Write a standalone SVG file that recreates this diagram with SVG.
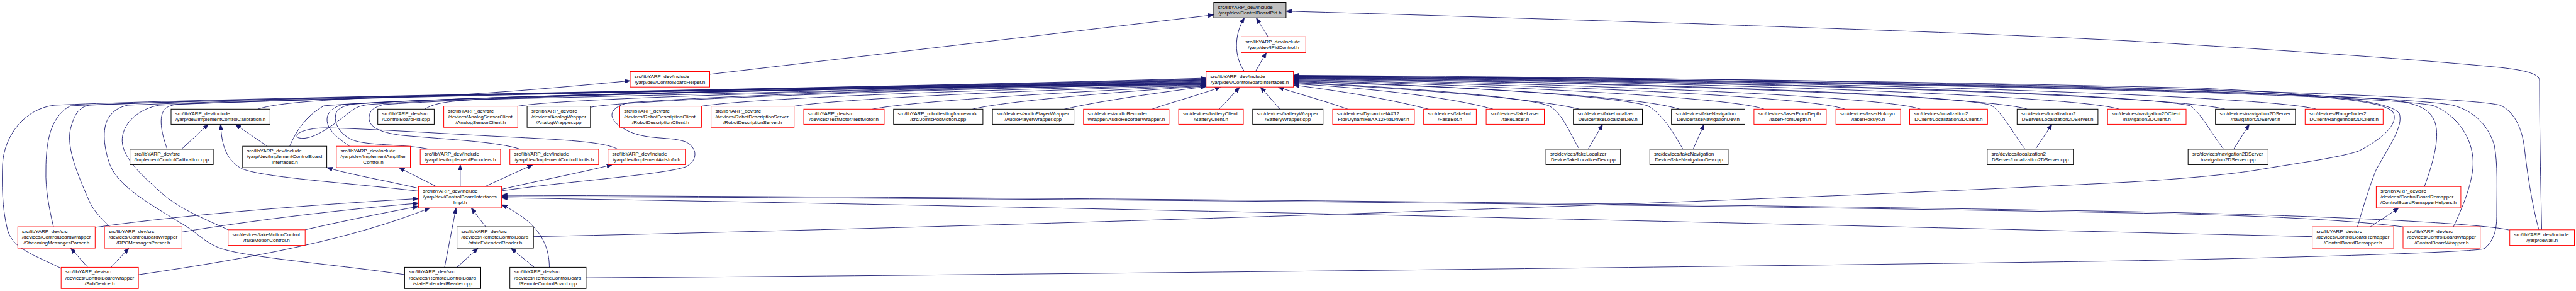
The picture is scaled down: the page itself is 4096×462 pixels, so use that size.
<svg xmlns="http://www.w3.org/2000/svg" width="4096" height="462" viewBox="0 0 4096 462">
<style>
.n rect{fill:#fff;stroke:#000;stroke-width:1}
.n.r rect{stroke:#f00}
.n.g rect{fill:#bfbfbf}
text{font-family:"Liberation Sans",Arial,sans-serif;font-size:8px;fill:#000}
.m{text-anchor:middle}
#edges path{fill:none;stroke:#191970;stroke-width:0.9;marker-end:url(#a)}
</style>
<defs>
<marker id="a" markerUnits="userSpaceOnUse" markerWidth="9" markerHeight="7" viewBox="0 0 9 7" refX="9" refY="3.5" orient="auto"><path d="M0,0L9,3.5L0,7z" fill="#191970" stroke="#191970" stroke-width="0.5"/></marker>
</defs>
<rect width="4096" height="462" fill="#fff"/>
<g id="edges">
<path d="M96.8,425.8 C55,405 20,395 12,365 C3,330 3,290 4,262 C6,215 40,172 87,167 C400,153 1400,140 1917.7,124"/>
<path d="M85,360.1 C78,330 72,300 73,270 C73,225 80,185 112,168 C450,152 1400,140 1917.7,125"/>
<path d="M174.4,360.1 C160,345 148,335 140,315 C125,280 105,235 112,205 C118,182 125,170 142,167 C500,152 1400,140 1917.7,126"/>
<path d="M643.4,436 C520,418 380,408 345,392 C325,383 315,372 300,362 C250,330 190,300 175,262 C165,235 162,205 172,188 C180,175 190,170 203,167 C550,152 1400,140 1917.7,127"/>
<path d="M362.7,364.8 C320,345 280,330 250,300 C210,265 190,240 195,215 C200,190 225,172 253,167 C580,152 1400,140 1917.7,128"/>
<path d="M265.9,236.9 C258,215 252,190 260,176 C265,168 275,166 290,165 C500,158 650,154 700,152 C800,147 900,138 1002,128.2"/>
<path d="M409.7,173.3 C440,163 520,158 640,153 C1000,145 1500,138 1917.7,129"/>
<path d="M460.7,232.2 C470,210 485,185 515,168 C700,152 1400,140 1917.7,130"/>
<path d="M555.8,232.2 C535,218 520,205 520,190 C520,178 530,170 545,166 C800,150 1400,139 1917.7,131"/>
<path d="M682.2,236.9 C640,228 585,232 560,222 C535,210 530,190 535,178 C540,170 550,167 565,165 C800,150 1400,139 1917.7,132"/>
<path d="M827.7,236.9 C790,225 720,222 640,215 C600,210 585,200 587,185 C588,175 595,170 610,166 C850,150 1400,139 1917.7,133"/>
<path d="M982.4,236.9 C960,225 900,222 800,217 C700,212 600,205 520,203 C480,203 465,215 475,219 C500,225 540,190 560,175 C570,168 580,166 600,165 C850,150 1400,139 1917.7,133.5"/>
<path d="M675.6,173.3 C690,163 720,160 760,158 C1100,150 1600,138 1917.7,126.5"/>
<path d="M823.3,168.6 C900,155 1400,142 1917.7,131.5"/>
<path d="M938.8,170.3 C1000,158 1500,141 1917.7,132.5"/>
<path d="M797.6,303 C900,288 1050,278 1090,265 C1110,255 1110,235 1090,225 C1060,215 1020,225 985,200 C965,185 970,170 1000,163 C1200,148 1600,138 1917.7,134"/>
<path d="M1115.4,168.6 C1200,155 1600,141 1917.7,134.5"/>
<path d="M1262.7,168.6 C1350,155 1700,141 1917.7,135.5"/>
<path d="M1387.2,173.3 C1450,160 1750,143 1917.7,136.2"/>
<path d="M1546.3,173.3 C1600,160 1800,144 1917.7,136.8"/>
<path d="M1692.3,173.3 C1750,160 1850,146 1917.7,137.5"/>
<path d="M1831.8,173.3 C1870,160 1910,150 1940.8,138.2"/>
<path d="M1938.6,173.3 L1971.3,138.2"/>
<path d="M2035.4,173.3 L2004,138.2"/>
<path d="M2143,173.3 C2100,158 2060,148 2032.3,138.2"/>
<path d="M2271.5,173.3 C2200,155 2120,143 2056.6,135"/>
<path d="M2374,173.3 C2300,152 2150,138 2056.6,133"/>
<path d="M2511.3,173.3 C2440,155 2200,138 2056.6,131.5"/>
<path d="M2511.3,236.9 C2495,210 2485,180 2463,168 C2420,152 2200,137 2056.6,130.5"/>
<path d="M2670.4,173.3 C2600,150 2250,135 2056.6,129.5"/>
<path d="M2676,236.9 C2660,210 2645,182 2620,168 C2560,150 2250,134 2056.6,128.5"/>
<path d="M2805,173.3 C2750,152 2300,133 2056.6,127.5"/>
<path d="M2933.6,173.3 C2870,150 2350,132 2056.6,126.5"/>
<path d="M3053.5,173.3 C2990,150 2400,130 2056.6,125.5"/>
<path d="M3223.5,173.3 C3150,150 2500,129 2056.6,125"/>
<path d="M3220,236.9 C3200,210 3185,180 3166,167 C3100,148 2500,128 2056.6,124.5"/>
<path d="M3369.5,173.3 C3300,150 2600,127 2056.6,124"/>
<path d="M3538,173.3 C3450,150 2700,127 2056.6,123.5"/>
<path d="M3535.8,236.9 C3515,210 3500,180 3483,168 C3400,148 2700,126 2056.6,123"/>
<path d="M3683,173.3 C3600,150 2800,126 2056.6,122.5"/>
<path d="M3748.5,360.1 C3760,320 3770,290 3778,270 C3800,230 3822,200 3815,180 C3800,160 3700,150 3500,140 C3000,128 2500,122 2056.6,122"/>
<path d="M3855,296.2 C3868,260 3880,220 3872,195 C3865,175 3850,165 3800,158 C3500,140 2500,122 2056.6,121.5"/>
<path d="M3901.1,360.1 C3920,320 3935,280 3932,250 C3928,210 3900,180 3870,168 C3800,150 3000,130 2056.6,121"/>
<path d="M931.9,441.2 C1800,435 3000,420 3386,414 C3700,408 3930,400 3950,395 C3968,380 3970,360 3970,340 C3970,300 3972,260 3966,230 C3955,195 3930,175 3900,167 C3800,148 3000,128 2056.6,120.5"/>
<path d="M848.2,375.7 C1500,362 2700,325 3386,289 C3500,282 3560,275 3600,268 C3660,258 3720,250 3750,240 C3790,220 3815,195 3805,178 C3790,160 3700,152 3500,143 C3000,130 2500,125 2056.6,120"/>
<path d="M4036.9,364.8 C4025,320 4018,270 4014,235 C4010,200 3995,175 3975,167 C3900,148 3000,125 2056.6,119.5"/>
<path d="M4041.5,364.8 C4040,300 4038,200 4038,128 C4038,118 4020,112 3975,107 C3800,90 3500,72 3386,65 C3100,50 2800,42 2709,38 C2450,30 2200,22 2044.9,17.7"/>
<path d="M2016.2,58.3 L1997.5,28.3"/>
<path d="M1978.7,113.5 C1962,90 1962,55 1978.7,28.3"/>
<path d="M1996.2,113.5 L2013.6,83.4"/>
<path d="M1128.5,117.9 L1929.9,23.6"/>
<path d="M288.6,236.9 L331.3,197.4"/>
<path d="M425,232.2 L374,197.4"/>
<path d="M665.6,303.5 C550,290 420,282 385,268 C360,255 352,230 350.9,197.4"/>
<path d="M665.6,299 C620,288 560,278 519.6,266"/>
<path d="M694,296.2 L634.2,266.1"/>
<path d="M731.8,296.2 L731.8,261.4"/>
<path d="M771,296.2 L847.3,261.4"/>
<path d="M797.6,300.6 C850,288 920,275 973.7,261.4"/>
<path d="M151.3,361 C300,340 500,325 665.6,315.3"/>
<path d="M289.4,368.4 C400,350 550,332 665.6,322.7"/>
<path d="M485.2,364.8 C550,350 610,338 665.6,327.7"/>
<path d="M220.1,436.2 C400,410 560,380 683.8,330.1"/>
<path d="M706.9,424.4 L725.2,330.1"/>
<path d="M772.3,360.1 L749.2,330.1"/>
<path d="M873.5,424.4 C873,390 860,355 797.6,325"/>
<path d="M726.6,424.4 L760.1,394"/>
<path d="M849.5,424.4 L812.4,394"/>
<path d="M139.5,424.4 L112.5,394"/>
<path d="M176.5,424.4 L204.9,394"/>
<path d="M3769,360.1 L3814.2,330.1"/>
<path d="M3676.6,375.7 C3000,360 1800,330 797.6,314"/>
<path d="M3821,360.1 C3700,345 3500,340 3386,338 C2500,322 1500,314 797.6,312"/>
<path d="M3990.7,365.4 C3950,355 3700,342 3386,336 C2500,320 1500,313 797.6,310"/>
<path d="M2525.2,236.9 L2548.3,197.4"/>
<path d="M2692.2,236.9 L2709.6,197.4"/>
<path d="M3236.5,236.9 L3262.7,197.4"/>
<path d="M3551.6,236.9 L3576.5,197.4"/>
</g>
<g id="n_pid" class="n g"><rect x="1929.9" y="3.5" width="115" height="24.8"/><text x="1936.7" y="13.6">src/libYARP_dev/include</text><text x="1987.4" y="22.7" class="m">/yarp/dev/ControlBoardPid.h</text></g>
<g id="n_ipid" class="n r"><rect x="1973.5" y="58.3" width="102.8" height="25.1"/><text x="1980.3" y="68.5">src/libYARP_dev/include</text><text x="2024.9" y="77.6" class="m">/yarp/dev/IPidControl.h</text></g>
<g id="n_cbhelper" class="n r"><rect x="1002" y="113.5" width="126.5" height="24.7"/><text x="1008.8" y="123.5">src/libYARP_dev/include</text><text x="1065.2" y="132.6" class="m">/yarp/dev/ControlBoardHelper.h</text></g>
<g id="n_cbi" class="n r"><rect x="1917.7" y="113.5" width="138.9" height="24.7"/><text x="1924.5" y="123.5">src/libYARP_dev/include</text><text x="1987.1" y="132.6" class="m">/yarp/dev/ControlBoardInterfaces.h</text></g>
<g id="n_icc_h" class="n"><rect x="272" y="173.3" width="157.4" height="24.1"/><text x="278.8" y="183">src/libYARP_dev/include</text><text x="350.7" y="192.1" class="m">/yarp/dev/ImplementControlCalibration.h</text></g>
<g id="n_cbpid_cpp" class="n"><rect x="600.7" y="173.3" width="89.7" height="24.1"/><text x="607.5" y="183">src/libYARP_dev/src</text><text x="645.5" y="192.1" class="m">/ControlBoardPid.cpp</text></g>
<g id="n_analogSC" class="n r"><rect x="705.6" y="168.6" width="117.7" height="33.6"/><text x="712.4" y="178.5">src/libYARP_dev/src</text><text x="712.4" y="187.6">/devices/AnalogSensorClient</text><text x="764.4" y="196.7" class="m">/AnalogSensorClient.h</text></g>
<g id="n_analogW" class="n"><rect x="838.1" y="168.6" width="100.7" height="33.6"/><text x="844.9" y="178.5">src/libYARP_dev/src</text><text x="844.9" y="187.6">/devices/AnalogWrapper</text><text x="888.4" y="196.7" class="m">/AnalogWrapper.cpp</text></g>
<g id="n_robDescC" class="n r"><rect x="985.5" y="168.6" width="129.9" height="33.6"/><text x="992.3" y="178.5">src/libYARP_dev/src</text><text x="992.3" y="187.6">/devices/RobotDescriptionClient</text><text x="1050.4" y="196.7" class="m">/RobotDescriptionClient.h</text></g>
<g id="n_robDescS" class="n r"><rect x="1130.6" y="168.6" width="132.1" height="33.6"/><text x="1137.4" y="178.5">src/libYARP_dev/src</text><text x="1137.4" y="187.6">/devices/RobotDescriptionServer</text><text x="1196.6" y="196.7" class="m">/RobotDescriptionServer.h</text></g>
<g id="n_testMotor" class="n r"><rect x="1278" y="173.3" width="127.9" height="24.1"/><text x="1284.8" y="183">src/libYARP_dev/src</text><text x="1341.9" y="192.1" class="m">/devices/TestMotor/TestMotor.h</text></g>
<g id="n_joints" class="n"><rect x="1420.8" y="173.3" width="142.1" height="24.1"/><text x="1427.6" y="183">src/libYARP_robottestingframework</text><text x="1491.8" y="192.1" class="m">/src/JointsPosMotion.cpp</text></g>
<g id="n_audioPlayer" class="n"><rect x="1578.1" y="173.3" width="129.5" height="24.1"/><text x="1584.9" y="183">src/devices/audioPlayerWrapper</text><text x="1642.8" y="192.1" class="m">/AudioPlayerWrapper.cpp</text></g>
<g id="n_audioRec" class="n r"><rect x="1722.8" y="173.3" width="136" height="24.1"/><text x="1729.6" y="183">src/devices/audioRecorder</text><text x="1790.8" y="192.1" class="m">Wrapper/AudioRecorderWrapper.h</text></g>
<g id="n_battClient" class="n r"><rect x="1874.1" y="173.3" width="102.9" height="24.1"/><text x="1880.9" y="183">src/devices/batteryClient</text><text x="1925.5" y="192.1" class="m">/BatteryClient.h</text></g>
<g id="n_battWrapper" class="n"><rect x="1991.8" y="173.3" width="111.9" height="24.1"/><text x="1998.6" y="183">src/devices/batteryWrapper</text><text x="2047.7" y="192.1" class="m">/BatteryWrapper.cpp</text></g>
<g id="n_dynamixel" class="n r"><rect x="2119" y="173.3" width="129.9" height="24.1"/><text x="2125.8" y="183">src/devices/DynamixelAX12</text><text x="2183.9" y="192.1" class="m">Ftdi/DynamixelAX12FtdiDriver.h</text></g>
<g id="n_fakebot" class="n r"><rect x="2263.7" y="173.3" width="83.7" height="24.1"/><text x="2270.5" y="183">src/devices/fakebot</text><text x="2305.5" y="192.1" class="m">/FakeBot.h</text></g>
<g id="n_fakeLaser" class="n r"><rect x="2363.1" y="173.3" width="92.4" height="24.1"/><text x="2369.9" y="183">src/devices/fakeLaser</text><text x="2409.3" y="192.1" class="m">/fakeLaser.h</text></g>
<g id="n_fakeLocH" class="n"><rect x="2501.7" y="173.3" width="109.8" height="24.1"/><text x="2508.5" y="183">src/devices/fakeLocalizer</text><text x="2556.6" y="192.1" class="m">Device/fakeLocalizerDev.h</text></g>
<g id="n_fakeNavH" class="n"><rect x="2657.7" y="173.3" width="116.8" height="24.1"/><text x="2664.5" y="183">src/devices/fakeNavigation</text><text x="2716.1" y="192.1" class="m">Device/fakeNavigationDev.h</text></g>
<g id="n_laserFD" class="n r"><rect x="2788.9" y="173.3" width="115" height="24.1"/><text x="2795.7" y="183">src/devices/laserFromDepth</text><text x="2846.4" y="192.1" class="m">/laserFromDepth.h</text></g>
<g id="n_laserHok" class="n r"><rect x="2919.2" y="173.3" width="102.9" height="24.1"/><text x="2926" y="183">src/devices/laserHokuyo</text><text x="2970.6" y="192.1" class="m">/laserHokuyo.h</text></g>
<g id="n_loc2dC" class="n r"><rect x="3036.5" y="173.3" width="123.8" height="24.1"/><text x="3043.3" y="183">src/devices/localization2</text><text x="3098.4" y="192.1" class="m">DClient/Localization2DClient.h</text></g>
<g id="n_loc2dS_h" class="n"><rect x="3207.3" y="173.3" width="128.6" height="24.1"/><text x="3214.1" y="183">src/devices/localization2</text><text x="3271.6" y="192.1" class="m">DServer/Localization2DServer.h</text></g>
<g id="n_nav2dC" class="n r"><rect x="3351.2" y="173.3" width="124.8" height="24.1"/><text x="3358" y="183">src/devices/navigation2DClient</text><text x="3413.6" y="192.1" class="m">/navigation2DClient.h</text></g>
<g id="n_nav2dS_h" class="n"><rect x="3522.7" y="173.3" width="127.2" height="24.1"/><text x="3529.5" y="183">src/devices/navigation2DServer</text><text x="3586.3" y="192.1" class="m">/navigation2DServer.h</text></g>
<g id="n_rangeF" class="n r"><rect x="3665.3" y="173.3" width="124" height="24.1"/><text x="3672.1" y="183">src/devices/Rangefinder2</text><text x="3727.3" y="192.1" class="m">DClient/Rangefinder2DClient.h</text></g>
<g id="n_icc_cpp" class="n"><rect x="206.6" y="236.9" width="132.5" height="24.5"/><text x="213.4" y="246.8">src/libYARP_dev/src</text><text x="272.8" y="255.9" class="m">/ImplementControlCalibration.cpp</text></g>
<g id="n_icbi_h" class="n"><rect x="385.8" y="232.2" width="133.8" height="33.9"/><text x="392.6" y="242.2">src/libYARP_dev/include</text><text x="392.6" y="251.3">/yarp/dev/ImplementControlBoard</text><text x="452.7" y="260.4" class="m">Interfaces.h</text></g>
<g id="n_iamp_h" class="n r"><rect x="534.8" y="232.2" width="117.7" height="33.9"/><text x="541.6" y="242.2">src/libYARP_dev/include</text><text x="541.6" y="251.3">/yarp/dev/ImplementAmplifier</text><text x="593.6" y="260.4" class="m">Control.h</text></g>
<g id="n_ienc_h" class="n r"><rect x="668.2" y="236.9" width="127.7" height="24.5"/><text x="675" y="246.8">src/libYARP_dev/include</text><text x="732" y="255.9" class="m">/yarp/dev/ImplementEncoders.h</text></g>
<g id="n_ilim_h" class="n r"><rect x="810.7" y="236.9" width="141.2" height="24.5"/><text x="817.5" y="246.8">src/libYARP_dev/include</text><text x="881.3" y="255.9" class="m">/yarp/dev/ImplementControlLimits.h</text></g>
<g id="n_iaxis_h" class="n r"><rect x="966.7" y="236.9" width="123" height="24.5"/><text x="973.5" y="246.8">src/libYARP_dev/include</text><text x="1028.2" y="255.9" class="m">/yarp/dev/ImplementAxisInfo.h</text></g>
<g id="n_fakeLocCpp" class="n"><rect x="2458.1" y="236.9" width="118.6" height="24.5"/><text x="2464.9" y="246.8">src/devices/fakeLocalizer</text><text x="2517.4" y="255.9" class="m">Device/fakeLocalizerDev.cpp</text></g>
<g id="n_fakeNavCpp" class="n"><rect x="2623.3" y="236.9" width="124.6" height="24.5"/><text x="2630.1" y="246.8">src/devices/fakeNavigation</text><text x="2685.6" y="255.9" class="m">Device/fakeNavigationDev.cpp</text></g>
<g id="n_loc2dS_cpp" class="n"><rect x="3159.8" y="236.9" width="136.9" height="24.5"/><text x="3166.6" y="246.8">src/devices/localization2</text><text x="3228.2" y="255.9" class="m">DServer/Localization2DServer.cpp</text></g>
<g id="n_nav2dS_cpp" class="n"><rect x="3479.2" y="236.9" width="127.2" height="24.5"/><text x="3486" y="246.8">src/devices/navigation2DServer</text><text x="3542.8" y="255.9" class="m">/navigation2DServer.cpp</text></g>
<g id="n_cbii" class="n r"><rect x="665.6" y="296.2" width="132" height="33.9"/><text x="672.4" y="306.2">src/libYARP_dev/include</text><text x="672.4" y="315.3">/yarp/dev/ControlBoardInterfaces</text><text x="731.6" y="324.4" class="m">Impl.h</text></g>
<g id="n_cbrh" class="n r"><rect x="3778.4" y="296.2" width="134.5" height="33.9"/><text x="3785.2" y="306.2">src/libYARP_dev/src</text><text x="3785.2" y="315.3">/devices/ControlBoardRemapper</text><text x="3845.6" y="324.4" class="m">/ControlBoardRemapperHelpers.h</text></g>
<g id="n_smp" class="n r"><rect x="28.3" y="360.1" width="123" height="33.9"/><text x="35.1" y="370.1">src/libYARP_dev/src</text><text x="35.1" y="379.2">/devices/ControlBoardWrapper</text><text x="89.8" y="388.3" class="m">/StreamingMessagesParser.h</text></g>
<g id="n_rpc" class="n r"><rect x="166.1" y="360.1" width="123.3" height="33.9"/><text x="172.9" y="370.1">src/libYARP_dev/src</text><text x="172.9" y="379.2">/devices/ControlBoardWrapper</text><text x="227.7" y="388.3" class="m">/RPCMessagesParser.h</text></g>
<g id="n_fmc" class="n r"><rect x="362.7" y="364.8" width="122.5" height="24.8"/><text x="369.5" y="374.9">src/devices/fakeMotionControl</text><text x="423.9" y="384" class="m">/fakeMotionControl.h</text></g>
<g id="n_serH" class="n"><rect x="726.6" y="360.1" width="121.6" height="33.9"/><text x="733.4" y="370.1">src/libYARP_dev/src</text><text x="733.4" y="379.2">/devices/RemoteControlBoard</text><text x="787.4" y="388.3" class="m">/stateExtendedReader.h</text></g>
<g id="n_cbr" class="n r"><rect x="3676.6" y="360.1" width="129.5" height="33.9"/><text x="3683.4" y="370.1">src/libYARP_dev/src</text><text x="3683.4" y="379.2">/devices/ControlBoardRemapper</text><text x="3741.3" y="388.3" class="m">/ControlBoardRemapper.h</text></g>
<g id="n_cbw" class="n r"><rect x="3821" y="360.1" width="122.7" height="33.9"/><text x="3827.8" y="370.1">src/libYARP_dev/src</text><text x="3827.8" y="379.2">/devices/ControlBoardWrapper</text><text x="3882.3" y="388.3" class="m">/ControlBoardWrapper.h</text></g>
<g id="n_all" class="n r"><rect x="3990.7" y="364.8" width="102.8" height="24.8"/><text x="3997.5" y="374.9">src/libYARP_dev/include</text><text x="4042.1" y="384" class="m">/yarp/dev/all.h</text></g>
<g id="n_sd" class="n r"><rect x="97.2" y="424.4" width="122.9" height="33.9"/><text x="104" y="434.4">src/libYARP_dev/src</text><text x="104" y="443.5">/devices/ControlBoardWrapper</text><text x="158.6" y="452.6" class="m">/SubDevice.h</text></g>
<g id="n_serCpp" class="n"><rect x="643.4" y="424.4" width="121.1" height="33.9"/><text x="650.2" y="434.4">src/libYARP_dev/src</text><text x="650.2" y="443.5">/devices/RemoteControlBoard</text><text x="703.9" y="452.6" class="m">/stateExtendedReader.cpp</text></g>
<g id="n_rcbCpp" class="n"><rect x="810.7" y="424.4" width="121.2" height="33.9"/><text x="817.5" y="434.4">src/libYARP_dev/src</text><text x="817.5" y="443.5">/devices/RemoteControlBoard</text><text x="871.3" y="452.6" class="m">/RemoteControlBoard.cpp</text></g>
</svg>
